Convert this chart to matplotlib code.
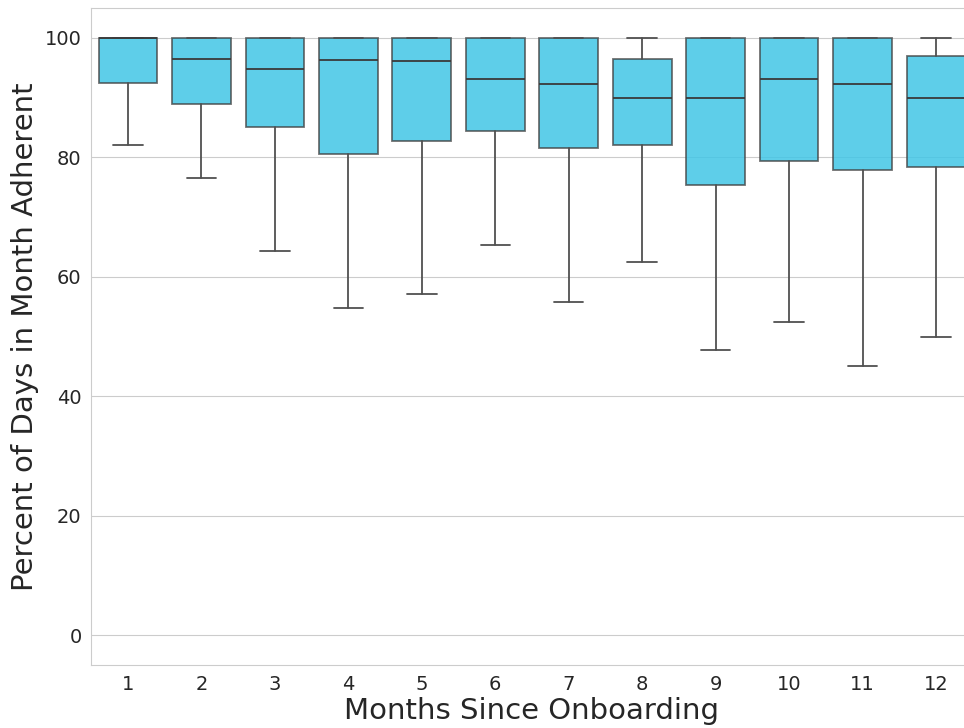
import matplotlib
matplotlib.use("Agg")
import matplotlib.pyplot as plt
import seaborn as sns

months = [1, 2, 3, 4, 5, 6, 7, 8, 9, 10, 11, 12]
whisker_low = [82.1, 76.6, 64.4, 54.7, 57.2, 65.4, 55.7, 62.5, 47.7, 52.5, 45.0, 50.0]
q1 = [92.5, 89.0, 85.0, 80.6, 82.8, 84.4, 81.6, 82.1, 75.3, 79.4, 77.8, 78.3]
median = [100.0, 96.5, 94.8, 96.3, 96.2, 93.1, 92.3, 90.0, 90.0, 93.1, 92.3, 90.0]
q3 = [100.0, 100.0, 100.0, 100.0, 100.0, 100.0, 100.0, 96.5, 100.0, 100.0, 100.0, 97.0]
whisker_high = [100.0, 100.0, 100.0, 100.0, 100.0, 100.0, 100.0, 100.0, 100.0, 100.0, 100.0, 100.0]

sns.set_style("whitegrid")
plt.rcParams['font.family'] = ['DejaVu Sans']

fig = plt.figure(figsize=(9.64, 7.28), dpi=100)
ax = fig.add_axes([0.0947, 0.0865, 0.9143, 0.9025])

stats = []
for i in range(len(months)):
    stats.append(dict(label=str(months[i]), whislo=whisker_low[i], q1=q1[i],
                      med=median[i], q3=q3[i], whishi=whisker_high[i], fliers=[]))

line_col = "#505050"
bp = ax.bxp(stats, positions=list(range(len(months))), widths=0.8,
            patch_artist=True, showfliers=False,
            boxprops=dict(facecolor=(0.259, 0.776, 0.902, 0.85),
                          edgecolor=(0.25, 0.25, 0.25, 0.75), linewidth=1.3),
            medianprops=dict(color="#3a3a3a", linewidth=1.3),
            whiskerprops=dict(color=line_col, linewidth=1.3),
            capprops=dict(color=line_col, linewidth=1.3),
            manage_ticks=False)

ax.set_xlim(-0.5, len(months) - 0.5)
ax.set_ylim(-5, 105)
ax.set_xticks(range(len(months)))
ax.set_xticklabels([str(m) for m in months])
ax.set_yticks([0, 20, 40, 60, 80, 100])
ax.tick_params(axis='both', labelsize=14, colors="#262626")
ax.xaxis.grid(False)
ax.set_axisbelow(True)
ax.set_xlabel("Months Since Onboarding", fontsize=21, color="#262626", labelpad=2)
ax.set_ylabel("Percent of Days in Month Adherent", fontsize=21, color="#262626", labelpad=4)

fig.savefig("out.png", dpi=100)
